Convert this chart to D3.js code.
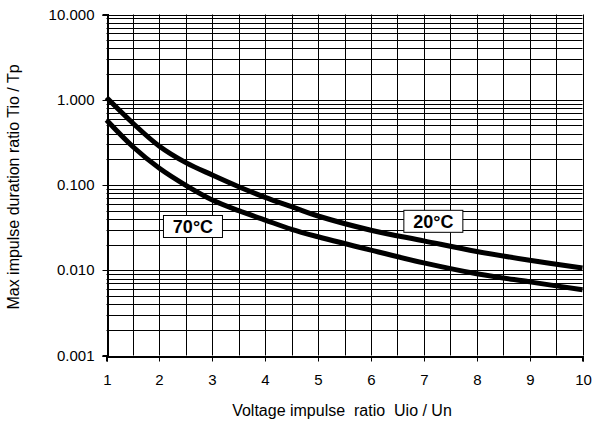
<!DOCTYPE html>
<html><head><meta charset="utf-8">
<script src="https://cdn.jsdelivr.net/npm/d3@7"></script>
<style>body{margin:0;background:#fff}svg{display:block}text{font-family:Arial,"Liberation Sans",sans-serif;fill:#000}</style>
</head><body><div id="c"></div>
<script>
const xs = [1, 1.5, 2, 2.5, 3, 3.5, 4, 4.5, 5, 6, 7, 8, 9, 10];
const t20 = [1.06, 0.53, 0.285, 0.183, 0.131, 0.0955, 0.0717, 0.0556, 0.0433, 0.0295, 0.0221, 0.0166, 0.0131, 0.0106];
const t70 = [0.578, 0.281, 0.157, 0.099, 0.0667, 0.05, 0.0388, 0.0302, 0.0247, 0.0172, 0.0122, 0.0091, 0.0073, 0.0059];
const yTicks = [0.001, 0.01, 0.1, 1, 10];
const yTickLabels = ["0.001", "0.010", "0.100", "1.000", "10.000"];
const xTicks = [1,2,3,4,5,6,7,8,9,10];
const labels = [{text:"70°C", x:2.635, y:0.0326}, {text:"20°C", x:7.18, y:0.0375}];

const W=603,H=426;
const svg=d3.select("#c").append("svg").attr("width",W).attr("height",H);
const x=d3.scaleLinear().domain([1,10]).range([106.5,582.5]);
const y=d3.scaleLog().domain([0.001,10]).range([355.5,14.5]);

const g=svg.append("g");
const vg=d3.range(1.5,10.01,0.5);
g.selectAll(".vg").data(vg).enter().append("line")
 .attr("x1",d=>Math.round(x(d))+0.5).attr("x2",d=>Math.round(x(d))+0.5)
 .attr("y1",y(10)).attr("y2",y(0.001)).attr("stroke","#000").attr("stroke-width",1);
const hg=[];
[0.001,0.01,0.1,1].forEach(b=>{for(let k=1;k<=10;k++) hg.push(b*k);});
g.selectAll(".hg").data(hg).enter().append("line")
 .attr("x1",x(1)).attr("x2",x(10))
 .attr("y1",d=>Math.round(y(d))+0.5).attr("y2",d=>Math.round(y(d))+0.5)
 .attr("stroke","#000").attr("stroke-width",1);

const FF="Arial,'Liberation Sans',sans-serif";
const yAxis=d3.axisLeft(y).tickValues(yTicks).tickFormat((d,i)=>yTickLabels[i]).tickSize(5).tickPadding(8);
const ya=svg.append("g").attr("transform",`translate(${Math.round(x(1))+0.5},0)`).call(yAxis);
ya.select(".domain").attr("stroke","#000").attr("stroke-width",2);
ya.selectAll(".tick line").attr("stroke","#000");
ya.selectAll("text").attr("font-size",15).attr("font-family",FF);
ya.selectAll(".tick").attr("transform",d=>`translate(0,${Math.round(y(d))+0.5})`);

const xAxis=d3.axisBottom(x).tickValues(xTicks).tickFormat(d3.format("d")).tickSize(5).tickPadding(13);
const xa=svg.append("g").attr("transform",`translate(0,${Math.round(y(0.001))+0.5})`).call(xAxis);
xa.select(".domain").attr("stroke","#000").attr("stroke-width",2);
xa.selectAll(".tick line").attr("stroke","#000");
xa.selectAll("text").attr("font-size",15).attr("font-family",FF);
xa.selectAll(".tick").attr("transform",d=>`translate(${Math.round(x(d))+0.5},0)`);

const line=d3.line().x((d,i)=>x(xs[i])).y(d=>y(d)).curve(d3.curveCatmullRom.alpha(0.5));
[t20,t70].forEach(s=>{
  svg.append("path").datum(s).attr("d",line).attr("fill","none").attr("stroke","#000").attr("stroke-width",5);
});

labels.forEach(l=>{
  const cx=x(l.x), cy=y(l.y);
  svg.append("rect").attr("x",cx-29.5).attr("y",cy-11).attr("width",59).attr("height",22)
   .attr("fill","#fff").attr("stroke","#000").attr("stroke-width",1);
  svg.append("text").attr("x",cx).attr("y",cy+6.5).attr("text-anchor","middle")
   .attr("font-size",18).attr("font-weight","bold").text(l.text);
});

svg.append("text").attr("x",342).attr("y",416).attr("text-anchor","middle").attr("font-size",16)
 .style("white-space","pre").text("Voltage impulse  ratio  Uio / Un");
svg.append("text").attr("transform","translate(19,187) rotate(-90)").attr("text-anchor","middle").attr("font-size",16)
 .text("Max impulse duration ratio Tio / Tp");
</script></body></html>
